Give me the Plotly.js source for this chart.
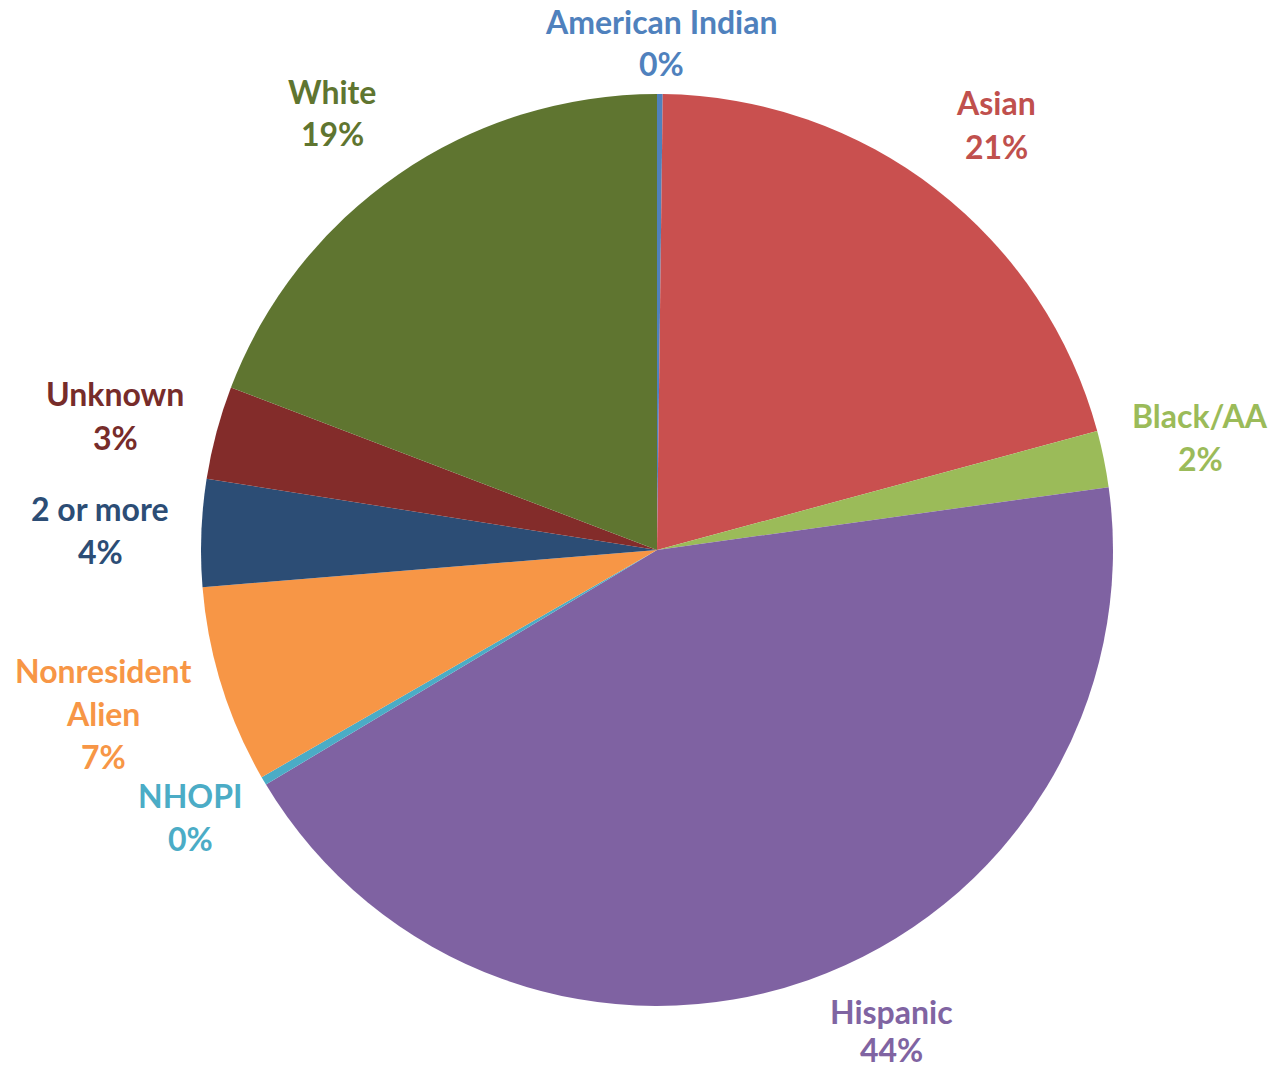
<!DOCTYPE html>
<html>
<head>
<meta charset="utf-8">
<script src="https://cdn.plot.ly/plotly-3.0.1.min.js"></script>
<style>html,body{margin:0;padding:0;background:#fff;}#chart{width:1274px;height:1073px;}</style>
</head>
<body>
<div id="chart"></div>
<script>
// Data
const labels = ["American Indian", "Asian", "Black/AA", "Hispanic", "NHOPI", "Nonresident Alien", "2 or more", "Unknown", "White"];
const values = [0.2, 20.6, 2.0, 43.6, 0.3, 7.0, 3.8, 3.3, 19.2];
const labelLines = [["American Indian"], ["Asian"], ["Black/AA"], ["Hispanic"], ["NHOPI"], ["Nonresident", "Alien"], ["2 or more"], ["Unknown"], ["White"]];

// Styles
const sliceColors = ["#4F81BD", "#C9504F", "#9BBB59", "#7F62A2", "#4BACC6", "#F79646", "#2C4D75", "#832C2A", "#5F7530"];
const textColors  = ["#4F81BD", "#C0504D", "#9BBB59", "#8064A2", "#4BACC6", "#F79646", "#2C4D75", "#772C2A", "#5F7530"];
// label block positions (pixel x of center, pixel y of first line center)
const labelPos = [[661, 21], [996, 103], [1200, 415], [891, 1011], [190, 795], [103, 670], [100, 508], [115, 394], [332, 91]];
const lineGap = 43;

const W = 1274, H = 1073;
const total = values.reduce((a, b) => a + b, 0);

const annotations = [];
labels.forEach((lab, i) => {
  const lines = labelLines[i].concat([Math.round(values[i] / total * 100) + "%"]);
  lines.forEach((t, j) => {
    const gap = (i === 3) ? 38 : lineGap;
    annotations.push({
      text: t, showarrow: false, xref: "paper", yref: "paper",
      x: labelPos[i][0] / W, y: 1 - (labelPos[i][1] + j * gap) / H,
      xanchor: "center", yanchor: "middle",
      font: {family: "Lato, 'Open Sans', sans-serif", size: 32, color: textColors[i], weight: 700}
    });
  });
});

const cx = 657, cy = 550, r = 456;
const trace = {
  type: "pie",
  labels: labels, values: values,
  sort: false, direction: "clockwise", rotation: 0,
  textinfo: "none", hoverinfo: "label+percent",
  marker: {colors: sliceColors, line: {width: 0}},
  domain: {x: [(cx - r) / W, (cx + r) / W], y: [1 - (cy + r) / H, 1 - (cy - r) / H]},
  showlegend: false
};

Plotly.newPlot("chart", [trace], {
  width: W, height: H,
  margin: {l: 0, r: 0, t: 0, b: 0},
  paper_bgcolor: "#ffffff",
  annotations: annotations,
  showlegend: false
}, {displayModeBar: false, staticPlot: true});
</script>
</body>
</html>
